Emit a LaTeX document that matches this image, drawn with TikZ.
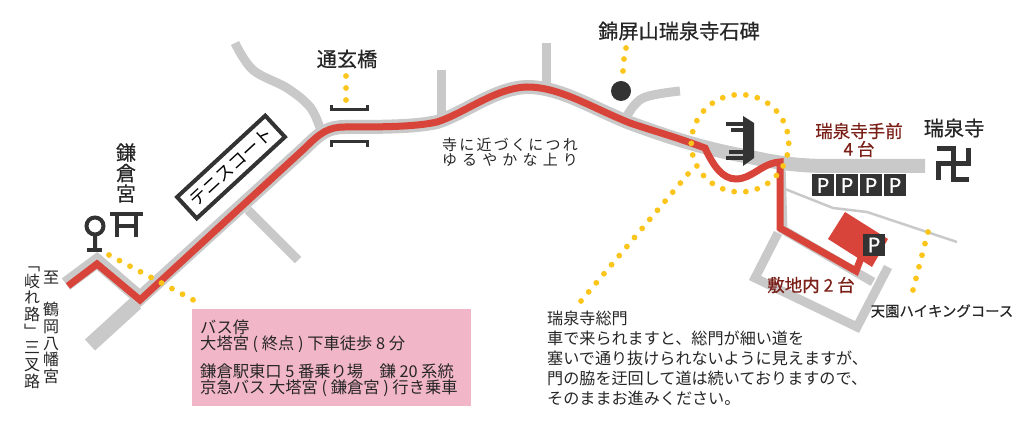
\documentclass[tikz,border=0pt]{standalone}
\usepackage{fontspec}
\setmainfont{Noto Sans CJK JP}
\newfontfamily\labelfont[FakeBold=0.5]{Noto Sans CJK JP}
\newfontfamily\vertfont[RawFeature={+vert}]{Noto Sans CJK JP}
\definecolor{roadgrey}{HTML}{C9C9C9}
\definecolor{routered}{HTML}{D9443A}
\definecolor{dotyellow}{HTML}{FBC51B}
\definecolor{boxpink}{HTML}{F2B6C9}
\definecolor{icondark}{HTML}{333333}
\definecolor{labelred}{HTML}{7B2018}
\def\hillway{(305,148) .. controls (320,133) and (328,127) .. (345,127) .. controls (380,127) and (415,127) .. (437,122) .. controls (465,113) and (495,88) .. (527,87) .. controls (560,87) and (590,107) .. (630,123)}
\tikzset{
  road/.style={draw=roadgrey,line width=9,line join=miter},
  route/.style={draw=routered,line width=7,line join=miter},
  icon/.style={draw=icondark,line width=4},
  bigtext/.style={font=\labelfont\fontsize{20.2}{21}\selectfont,text=black!85,inner sep=0,align=center},
  redtext/.style={font=\labelfont\fontsize{17.5}{18}\selectfont,text=labelred,inner sep=0,align=center},
  bodytext/.style={font=\fontsize{16.1}{20}\selectfont,text=black!85,inner sep=0,align=left},
  vertext/.style={font=\vertfont\fontsize{16}{16.8}\selectfont,text=black!85,inner sep=0,align=center},
  parkbox/.style={fill=icondark,text=white,font=\labelfont\fontsize{20}{20}\selectfont,inner sep=0,minimum width=21.5,minimum height=22}
}
\begin{document}
\begin{tikzpicture}[x=1pt,y=-1pt]
\useasboundingbox (0,0) rectangle (1034,443);

% Side roads
\draw[road,line width=15] (90,345) -- (136,303);
\draw[road] (248,210) -- (298,260);
\draw[road] plot[smooth,tension=.6] coordinates {(235,43) (253,70) (287,88) (310,107) (320,128)};
\draw[road] (441,70) -- (441,117);
\draw[road] (546,43) -- (546,84);
\draw[road] plot[smooth,tension=.6] coordinates {(627,116) (643,98) (680,91)};
\draw[road] (781,165) -- (783,230);
\draw[road,line width=2.5] (780,187) -- (833,208) -- (867,212) -- (957,242);
\draw[road] (780,228) -- (873,282);
\draw[road] (778,233) -- (755,278) -- (857,327) -- (888,267);

% Main road and the way to the temple
\draw[road,line width=14] (66,284) -- (97,261) -- (140,298) -- (305,148) -- \hillway .. controls (660,134) and (700,148) .. (745,156) .. controls (770,161) and (790,166) .. (830,166) -- (925,166);
\draw[route] (68,286) -- (97,264) -- (140,300) -- (305,148) -- \hillway .. controls (650,130) and (670,135) .. (705,148) .. controls (713,165) and (722,179) .. (736,179) .. controls (752,179) and (762,163) .. (780,162) -- (780,228) -- (856,271) -- (861,258);

% Car park
\fill[routered] (845,212) -- (888,239) -- (872,267) -- (828,239) -- cycle;
\node[parkbox] (parkLot) at (874,245) {P};
\node[parkbox] (parkA) at (823,185.5) {P};
\node[parkbox] (parkB) at (847,185.5) {P};
\node[parkbox] (parkC) at (871,185.5) {P};
\node[parkbox] (parkD) at (895,185.5) {P};

% Bridge, gate and symbols
\draw[icon,line width=3] (331,105) -- (331,110) -- (367,110) -- (367,105);
\draw[icon,line width=3] (331,147) -- (331,142) -- (367,142) -- (367,147);
\fill[icondark] (743,116) -- (754,123) -- (754,158) -- (743,166) -- cycle;
\draw[icon,line width=3.5] (726,124) -- (743,124);
\draw[icon,line width=3.5] (731,130) -- (743,130);
\draw[icon,line width=3.5] (729,152) -- (743,152);
\draw[icon,line width=3.5] (726,158) -- (743,158);
\draw[icon,line width=5] (937,149) -- (953,149) -- (953,180) -- (969,180);
\draw[icon,line width=5] (938,180) -- (938,164) -- (968,164) -- (968,148);
\fill[icondark] (621,91) circle (10);
\draw[icon] (95,226) circle (8.5) (95,235) -- (95,250);
\draw[icon] (87,250.5) -- (102,250.5);
\draw[icon,line width=4.5] (110,214) -- (143,214);
\draw[icon,line width=3.5] (115,226) -- (138,226);
\draw[icon,line width=4.5] (117,214) -- (117,237) (136,214) -- (136,237);

% Yellow dots
\foreach \a in {0,...,25}
  \fill[dotyellow] ({740+48.7*cos(\a*360/26)},{143.3+48.7*sin(\a*360/26)}) circle (2.9);
\foreach \i in {0,...,14}
  \fill[dotyellow] ({688-7.64*\i},{174+9.07*\i}) circle (2.9);
\foreach \i in {0,...,8}
  \fill[dotyellow] ({109+10.5*\i},{255+5.6*\i}) circle (2.9);
\foreach \i in {0,...,5}
  \fill[dotyellow] ({928-3*\i},{232+11.6*\i}) circle (2.9);
\foreach \y in {76,88,100}
  \fill[dotyellow] (346,\y) circle (2.9);
\foreach \x/\y in {626/48,624/59,623/71}
  \fill[dotyellow] (\x,\y) circle (2.9);

% Tennis court label
\node[draw=icondark,line width=4,rotate=42.7,minimum width=120,minimum height=29,inner sep=0,font=\fontsize{17.5}{17.5}\selectfont] (tennis) at (231,167) {テニスコート};

% Place names
\node[bigtext] (bridgeName) at (347,59) {通玄橋};
\node[bigtext] (stoneName) at (679,31) {錦屏山瑞泉寺石碑};
\node[bigtext] (templeName) at (954,128) {瑞泉寺};
\node[bigtext,font=\labelfont\fontsize{20}{20.5}\selectfont] (shrineName) at (126,173) {鎌\\倉\\宮};
\node[redtext] (frontPark) at (859,140) {瑞泉寺手前\\4 台};
\node[redtext] (innerPark) at (811,285) {敷地内 2 台};
\node[font=\labelfont\fontsize{14.4}{14.4}\selectfont,text=black!85,inner sep=0] (hikeName) at (942,311) {天園ハイキングコース};

% Direction labels at the left edge
\node[vertext] (toA) at (51,278) {至};
\node[vertext] (toB) at (51,343) {鶴\\岡\\八\\幡\\宮};
\node[vertext] (forkA) at (32,302) {「\\岐\\れ\\路\\」};
\node[vertext] (forkB) at (32,365) {三\\叉\\路};

% Slope note
\node[bodytext,align=center,font=\fontsize{15}{15}\selectfont] (slopeA) at (510,145) {\makebox[136pt][s]{寺\hfil に\hfil 近\hfil づ\hfil く\hfil に\hfil つ\hfil れ}};
\node[bodytext,align=center,font=\fontsize{15}{15}\selectfont] (slopeB) at (510,160) {\makebox[136pt][s]{ゆ\hfil る\hfil や\hfil か\hfil な\hfil 上\hfil り}};

% Bus stop box
\fill[boxpink] (192,309) rectangle (471,406);
\node[bodytext,anchor=north west,font=\fontsize{16.3}{16}\selectfont] (busNote) at (200,319.5) {バス停\\大塔宮 ( 終点 ) 下車徒歩 8 分\\[10pt]鎌倉駅東口 5 番乗り場　鎌 20 系統\\京急バス 大塔宮 ( 鎌倉宮 ) 行き乗車};

% Gate note
\node[bodytext,anchor=north west] (gateNote) at (547,311) {瑞泉寺総門\\車で来られますと、総門が細い道を\\塞いで通り抜けられないように見えますが、\\門の脇を迂回して道は続いておりますので、\\そのままお進みください。};
\end{tikzpicture}
\end{document}
